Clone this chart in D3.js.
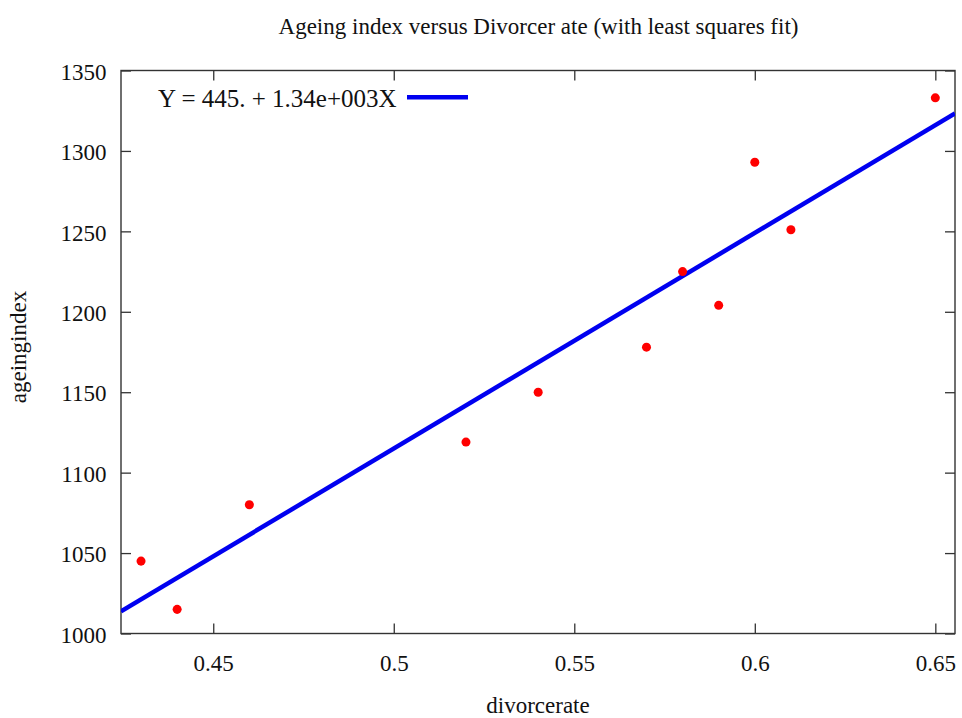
<!DOCTYPE html>
<html>
<head>
<meta charset="utf-8">
<script src="https://cdn.jsdelivr.net/npm/d3@7"></script>
<style>
  body { margin: 0; background: #fff; }
  svg text { font-family: "Liberation Serif", "Times New Roman", serif; fill: #111; }
</style>
</head>
<body>
<svg id="chart" width="962" height="718"></svg>
<script>
// Observations: divorce rate vs ageing index
const divorceRate = [0.43, 0.44, 0.46, 0.52, 0.54, 0.57, 0.58, 0.59, 0.60, 0.61, 0.65];
const ageingIndex = [1045, 1015, 1080, 1119, 1150, 1178, 1225, 1204, 1293, 1251, 1333];

// Least squares fit: Y = a + bX
const fitIntercept = 445;
const fitSlope = 1340;

const xTicks = [0.45, 0.5, 0.55, 0.6, 0.65];
const yTicks = [1000, 1050, 1100, 1150, 1200, 1250, 1300, 1350];
const xDomain = [0.42445, 0.65545];
const yDomain = [1000, 1350];

const titleText = "Ageing index versus Divorcer ate (with least squares fit)";
const xLabel = "divorcerate";
const yLabel = "ageingindex";
const legendText = "Y = 445. + 1.34e+003X";

const svg = d3.select("#chart");
const L = 121, R = 955, T = 70.5, B = 633.5;

const x = d3.scaleLinear().domain(xDomain).range([L, R]);
const y = d3.scaleLinear().domain(yDomain).range([B, T]);

const tickLen = 10;
const axisColor = "#333";
const tickFont = 23;

// Ticks on all four sides, pointing inward
const gx = svg.append("g").attr("transform", `translate(0,${B})`)
  .call(d3.axisBottom(x).tickValues(xTicks).tickSizeInner(-tickLen).tickSizeOuter(0)
    .tickFormat(d => String(d)));
const gxTop = svg.append("g").attr("transform", `translate(0,${T})`)
  .call(d3.axisTop(x).tickValues(xTicks).tickSizeInner(-tickLen).tickSizeOuter(0).tickFormat(""));
const gy = svg.append("g").attr("transform", `translate(${L},0)`)
  .call(d3.axisLeft(y).tickValues(yTicks).tickSizeInner(-tickLen).tickSizeOuter(0)
    .tickFormat(d3.format("d")));
const gyR = svg.append("g").attr("transform", `translate(${R},0)`)
  .call(d3.axisRight(y).tickValues(yTicks).tickSizeInner(-tickLen).tickSizeOuter(0).tickFormat(""));

[gx, gxTop, gy, gyR].forEach(g => {
  g.select(".domain").remove();
  g.selectAll(".tick line").attr("stroke", axisColor).attr("stroke-width", 1.3);
  g.selectAll(".tick text").attr("font-size", tickFont).attr("fill", "#111")
    .attr("font-family", "'Liberation Serif', serif");
});
gx.selectAll(".tick text").attr("y", 37).attr("dy", 0);
gy.selectAll(".tick text").attr("x", -14.5).attr("dy", "0.38em");

// Frame
svg.append("rect").attr("x", L).attr("y", T).attr("width", R - L).attr("height", B - T)
  .attr("fill", "none").attr("stroke", axisColor).attr("stroke-width", 1.4);

// Fit line, clipped to the plot frame
svg.append("clipPath").attr("id", "plotClip").append("rect")
  .attr("x", L).attr("y", T).attr("width", R - L).attr("height", B - T);
svg.append("line")
  .attr("clip-path", "url(#plotClip)")
  .attr("x1", x(xDomain[0])).attr("y1", y(fitIntercept + fitSlope * xDomain[0]))
  .attr("x2", x(xDomain[1])).attr("y2", y(fitIntercept + fitSlope * xDomain[1]))
  .attr("stroke", "#0000f0").attr("stroke-width", 4.5);

// Data points
const pts = divorceRate.map((d, i) => ({ x: d, y: ageingIndex[i] }));
svg.append("g").selectAll("path").data(pts).join("path")
  .attr("transform", d => `translate(${x(d.x)},${y(d.y)})`)
  .attr("d", d3.symbol().type(d3.symbolCircle).size(64))
  .attr("fill", "#ff0000");

// Legend
svg.append("text").attr("x", 158).attr("y", 107).attr("font-size", 25).text(legendText);
svg.append("line").attr("x1", 407).attr("x2", 468).attr("y1", 97.3).attr("y2", 97.3)
  .attr("stroke", "#0000f0").attr("stroke-width", 4.5);

// Titles
svg.append("text").attr("x", 538.5).attr("y", 34).attr("text-anchor", "middle")
  .attr("font-size", 23).text(titleText);
svg.append("text").attr("x", 538).attr("y", 713).attr("text-anchor", "middle")
  .attr("font-size", 23).text(xLabel);
svg.append("text").attr("transform", "translate(26,347) rotate(-90)")
  .attr("text-anchor", "middle").attr("font-size", 23).text(yLabel);
</script>
</body>
</html>
